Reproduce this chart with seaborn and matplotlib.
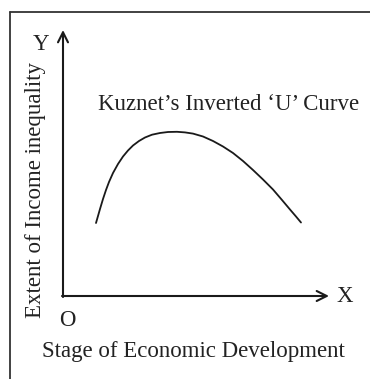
import numpy as np
import pandas as pd
import matplotlib.pyplot as plt
import seaborn as sns

# body of the curve (x = stage, y = inequality)
stage = [33, 35, 37, 40, 43, 46, 50, 55, 60, 65, 70, 76, 82, 89, 97, 105, 114,
         122, 130, 140, 150, 160, 170, 180, 190, 200, 210, 219, 227, 233, 238]
inequality = [73, 80, 87, 97, 106, 114, 123, 132, 139.5, 145.5, 150.5, 155, 158.5,
              161.3, 163, 164, 164.2, 163.6, 162.4, 159.5, 155, 149.5, 143, 135,
              126, 116.5, 106.5, 96, 86.5, 79.5, 73.5]

title = "Kuznet\u2019s Inverted \u2018U\u2019 Curve"
x_label = "Stage of Economic Development"
y_label = "Extent of Income inequality"

sns.set_theme(style="white")
plt.rcParams["font.family"] = ["Liberation Serif", "DejaVu Serif"]

data = pd.DataFrame({"stage": stage, "inequality": inequality})

fig = plt.figure(figsize=(3.7, 3.79), dpi=100)
ax = fig.add_axes([0, 0, 1, 1])
ax.set_xlim(-63, 307)
ax.set_ylim(-83, 296)
ax.axis("off")

sns.lineplot(data=data, x="stage", y="inequality", sort=False, color="#1a1a1a",
             linewidth=1.3, ax=ax)

# axes with open arrow heads
arrow = dict(arrowstyle="->", color="#1a1a1a", lw=1.5, mutation_scale=18, shrinkA=0, shrinkB=0)
ax.annotate("", xy=(0, 266), xytext=(0, -1), arrowprops=arrow)
ax.annotate("", xy=(266, 0), xytext=(-1, 0), arrowprops=arrow)

fs = 16.5
ax.text(-22, 252, "Y", fontsize=fs, ha="center", va="center", color="#222222")
ax.text(282, 0, "X", fontsize=fs, ha="center", va="center", color="#222222")
ax.text(4, -24, "O", fontsize=fs, ha="center", va="center", color="#222222")
ax.text(166, 192, title, fontsize=fs, ha="center", va="center", color="#222222")
ax.text(130, -56, x_label, fontsize=fs, ha="center", va="center", color="#222222")
ax.text(-27, 106, y_label, fontsize=fs, ha="center", va="center", rotation=90, color="#222222")

# frame on the left and top
fig.add_artist(plt.Line2D([10 / 370, 10 / 370], [0, 1 - 12 / 379], color="#333333", lw=1.3))
fig.add_artist(plt.Line2D([10 / 370, 1], [1 - 12 / 379, 1 - 12 / 379], color="#333333", lw=1.3))

fig.savefig("out.png", dpi=100)
